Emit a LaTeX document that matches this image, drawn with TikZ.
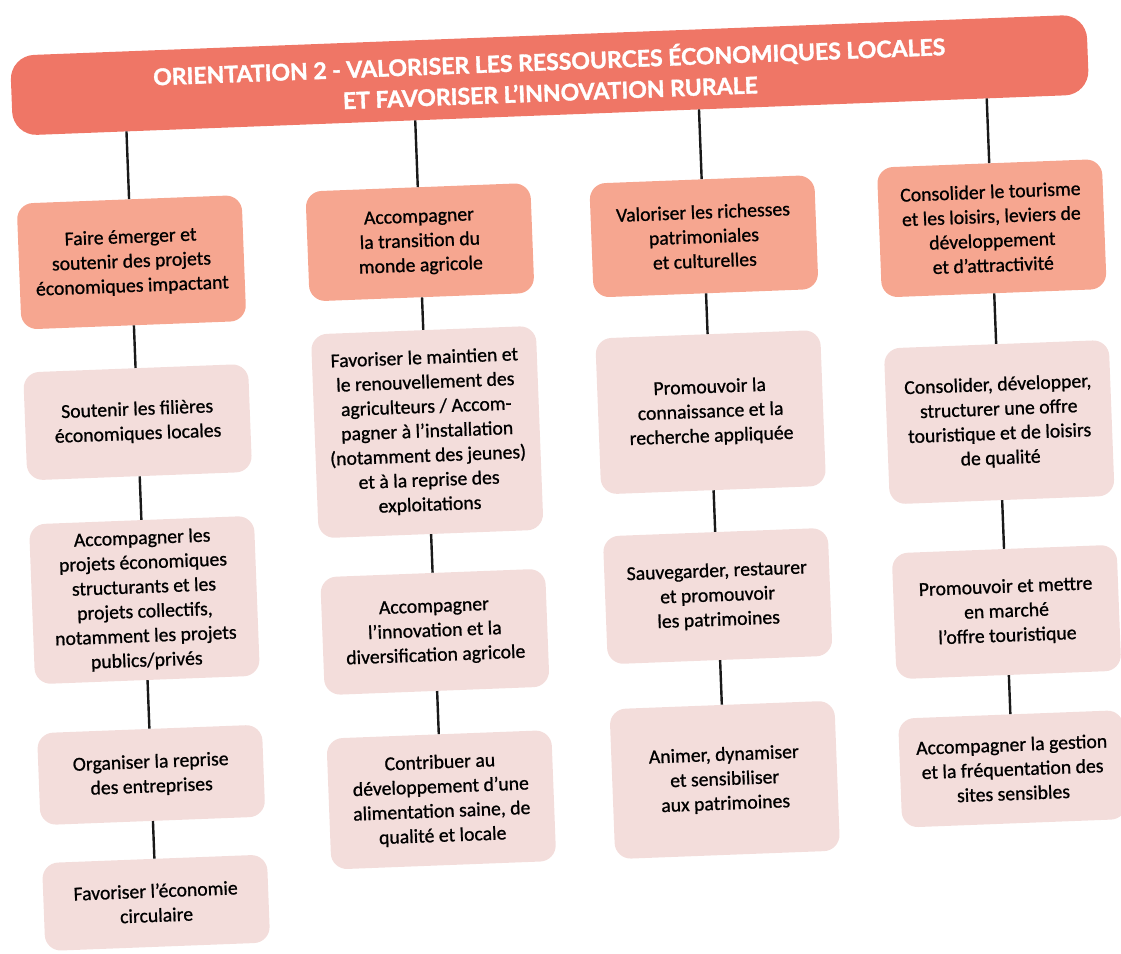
\documentclass[tikz,border=0pt]{standalone}
\usepackage{fontspec}
\setmainfont{Carlito}
\newfontfamily\boxfont{Carlito}[FakeBold=0.9]
\newfontfamily\titlefont{Lato}[BoldFeatures={FakeBold=1.5}]
\definecolor{titlecol}{RGB}{239,118,102}
\definecolor{topcol}{RGB}{246,166,144}
\definecolor{subcol}{RGB}{243,221,219}
\begin{document}
\begin{tikzpicture}[x=1pt,y=-1pt,
  box/.style={rounded corners=16pt, minimum width=225pt, align=center, inner sep=0pt,
    font=\boxfont\fontsize{19.7}{24.5}\selectfont, text=black},
  mainbox/.style={box, fill=topcol},
  subbox/.style={box, fill=subcol},
  link/.style={draw=black!90, line width=2.4pt}]
\useasboundingbox (0,0) rectangle (1121,953);
\begin{scope}[rotate around={2.2:(560,476)}, transform shape]
\node[fill=titlecol, rounded corners=24pt, minimum width=1077pt, minimum height=80pt,
  inner sep=0pt, text=white, align=center,
  font=\titlefont\bfseries\fontsize{23}{31}\selectfont] (title) at (565,75)
  {ORIENTATION 2 - VALORISER LES RESSOURCES ÉCONOMIQUES LOCALES\\ET FAVORISER L’INNOVATION RURALE};

% column 1
\node[mainbox, minimum height=126pt] (A1) at (140,246) {Faire émerger et\\soutenir des projets\\économiques impactant};
\node[subbox, minimum height=108pt] (B1) at (140,406) {Soutenir les filières\\économiques locales};
\node[subbox, minimum height=160pt] (C1) at (140,584) {Accompagner les\\projets économiques\\structurants et les\\projets collectifs,\\notamment les projets\\publics/privés};
\node[subbox, minimum height=92pt] (D1) at (140,759) {Organiser la reprise\\des entreprises};
\node[subbox, minimum height=88pt] (E1) at (140,887) {Favoriser l’économie\\circulaire};

% column 2
\node[mainbox, minimum height=110pt] (A2) at (429,237) {Accompagner\\la transition du\\monde agricole};
\node[subbox, minimum height=204pt] (B2) at (429,427) {Favoriser le maintien et\\le renouvellement des\\agriculteurs / Accom-\\pagner à l’installation\\(notamment des jeunes)\\et à la reprise des\\exploitations};
\node[subbox, minimum height=118pt] (C2) at (429,627) {Accompagner\\l’innovation et la\\diversification agricole};
\node[subbox, minimum height=131pt] (D2) at (429,795) {Contribuer au\\développement d’une\\alimentation saine, de\\qualité et locale};

% column 3
\node[mainbox, minimum height=114pt] (A3) at (713,242) {Valoriser les richesses\\patrimoniales\\et culturelles};
\node[subbox, minimum height=156pt] (B3) at (713,418) {Promouvoir la\\connaissance et la\\recherche appliquée};
\node[subbox, minimum height=128pt] (C3) at (713,602) {Sauvegarder, restaurer\\et promouvoir\\les patrimoines};
\node[subbox, minimum height=150pt] (D3) at (713,786) {Animer, dynamiser\\et sensibiliser\\aux patrimoines};

% column 4
\node[mainbox, minimum height=130pt] (A4) at (1001,245) {Consolider le tourisme\\et les loisirs, leviers de\\développement\\et d’attractivité};
\node[subbox, minimum height=156pt] (B4) at (1001,439) {Consolider, développer,\\structurer une offre\\touristique et de loisirs\\de qualité};
\node[subbox, minimum height=126pt] (C4) at (1001,629) {Promouvoir et mettre\\en marché\\l’offre touristique};
\node[subbox, minimum height=109pt] (D4) at (1001,786) {Accompagner la gestion\\et la fréquentation des\\sites sensibles};

% title drop points
\coordinate (t1) at (140,115);
\coordinate (t2) at (429,115);
\coordinate (t3) at (713,115);
\coordinate (t4) at (1001,115);

\draw[link] (t1) -- (A1.north);
\draw[link] (t2) -- (A2.north);
\draw[link] (t3) -- (A3.north);
\draw[link] (t4) -- (A4.north);

\draw[link] (A1.south) -- (B1.north);
\draw[link] (B1.south) -- (C1.north);
\draw[link] (C1.south) -- (D1.north);
\draw[link] (D1.south) -- (E1.north);

\draw[link] (A2.south) -- (B2.north);
\draw[link] (B2.south) -- (C2.north);
\draw[link] (C2.south) -- (D2.north);

\draw[link] (A3.south) -- (B3.north);
\draw[link] (B3.south) -- (C3.north);
\draw[link] (C3.south) -- (D3.north);

\draw[link] (A4.south) -- (B4.north);
\draw[link] (B4.south) -- (C4.north);
\draw[link] (C4.south) -- (D4.north);
\end{scope}
\end{tikzpicture}
\end{document}
